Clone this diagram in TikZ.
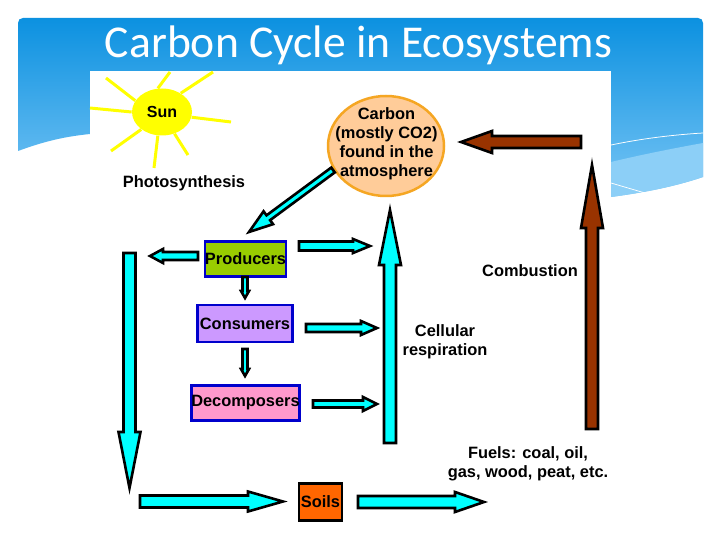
\documentclass[tikz,border=0pt]{standalone}
\usepackage{fontspec}
\setmainfont{Liberation Sans}
\newfontfamily\titlefont{Carlito}
\usetikzlibrary{calc,shapes.geometric}

\definecolor{arrowcyan}{RGB}{0,255,255}
\definecolor{arrowbrown}{RGB}{153,51,0}
\definecolor{boxblue}{RGB}{0,0,204}

\tikzset{every picture/.style={line width=0.75pt}}
\tikzset{
  blockline/.style={draw=black,line width=2.6pt,miter limit=20},
  sunray/.style={color={rgb, 255:red, 255; green, 255; blue, 0},line width=3pt},
  stagebox/.style={draw=boxblue,line width=2.5pt,inner sep=0pt,font=\bfseries\fontsize{16.4}{19}\selectfont},
  plainlabel/.style={inner sep=0.75pt,align=center,font=\bfseries\fontsize{16.4}{19}\selectfont}
}

% tail, tip, half shaft, half head, head length, fill
\newcommand{\blockarrow}[6]{
  \coordinate (hb) at ($(#2)!#5pt!(#1)$);
  \draw [blockline,fill=#6] ($(#1)!#3pt!90:(#2)$) -- ($(hb)!#3pt!90:(#2)$) -- ($(hb)!#4pt!90:(#2)$) -- (#2) -- ($(hb)!#4pt!-90:(#2)$) -- ($(hb)!#3pt!-90:(#2)$) -- ($(#1)!#3pt!-90:(#2)$) -- cycle ;
}

\begin{document}
\begin{tikzpicture}[x=1pt,y=1pt,yscale=-1,xscale=1]
\useasboundingbox (0,0) rectangle (720,540);

%Slide background
\fill [white] (0,0) rectangle (720,540);
\shade [top color={rgb, 255:red, 12; green, 145; blue, 224},bottom color={rgb, 255:red, 120; green, 197; blue, 245}] (18,23) .. controls (18,20) and (20,18) .. (23,18) -- (698,18) .. controls (701,18) and (703,20) .. (703,23) -- (703,177) .. controls (670,188) and (640,193) .. (611,197) -- (90,134) .. controls (60,137) and (40,143) .. (18,151) -- cycle ;
%Wave
\fill [color={rgb, 255:red, 140; green, 207; blue, 247}] (611,162) .. controls (640,155) and (670,149) .. (703,143) -- (703,177) .. controls (670,188) and (640,193) .. (611,197) -- cycle ;
\draw [white] (611,145) .. controls (640,139) and (670,135) .. (703,133) ;
\draw [white] (611,183) -- (645,193) ;
%Image
\fill [white] (90,71) rectangle (611,540);

%Sun
\node (sun) [ellipse,fill={rgb, 255:red, 255; green, 255; blue, 0},minimum width=60pt,minimum height=47pt,inner sep=0pt,font=\bfseries\fontsize{16}{19}\selectfont] at (162,112) {Sun};
\draw [sunray] (sun.157) -- (106,78) ;
\draw [sunray] (sun.100) -- (170,72) ;
\draw [sunray] (sun.45) -- (213,72) ;
\draw [sunray] (sun.-10) -- (231,122) ;
\draw [sunray] (sun.-60) -- (188,155) ;
\draw [sunray] (sun.-100) -- (154,168) ;
\draw [sunray] (sun.-140) -- (111,151) ;
\draw [sunray] (sun.180) -- (90,108) ;

%Carbon
\node (carbon) [ellipse,draw={rgb, 255:red, 245; green, 166; blue, 35},fill={rgb, 255:red, 255; green, 204; blue, 153},line width=2.5pt,minimum width=116pt,minimum height=100pt,inner sep=0pt] at (386,146) {};
% Text Node
\node (carbontext) [plainlabel] at (386.5,144) {Carbon\\(mostly CO2)\\found in the\\atmosphere};

%Stage boxes
\node (producers) [stagebox,fill={rgb, 255:red, 153; green, 204; blue, 0},minimum width=80pt,minimum height=35pt] at (245.5,259) {Producers};
\node (consumers) [stagebox,fill={rgb, 255:red, 204; green, 153; blue, 255},minimum width=95pt,minimum height=37pt] at (245,323.5) {Consumers};
\node (decomposers) [stagebox,fill={rgb, 255:red, 255; green, 153; blue, 204},minimum width=108pt,minimum height=35pt] at (245.5,403) {Decomposers};
\node (soils) [stagebox,draw=black,fill={rgb, 255:red, 255; green, 102; blue, 0},minimum width=43pt,minimum height=37pt] at (320.5,502) {Soils};

% Text Node
\node (photosynthesis) [plainlabel] at (184,183) {Photosynthesis};
% Text Node
\node (combustion) [plainlabel] at (530,271) {Combustion};
% Text Node
\node (respiration) [plainlabel] at (445,342) {Cellular\\respiration};
% Text Node
\node (fuels) [plainlabel] at (528,464) {Fuels: coal, oil,\\gas, wood, peat, etc.};
% Text Node
\node (slidetitle) [inner sep=0pt,anchor=base,white,font=\titlefont\fontsize{45.6}{50}\selectfont] at (358.5,58) {Carbon Cycle in Ecosystems};

%Arrow ends
\coordinate (atmotail) at (333,170);
\coordinate (atmotip) at (249,232);
\coordinate (firetail) at (581,142);
\coordinate (firetip) at (461,142);
\coordinate (fueltail) at (592,429);
\coordinate (fueltip) at (592,165);
\coordinate (resptail) at (390,443);
\coordinate (resptip) at (390,210);
\coordinate (prodltail) at (198,256);
\coordinate (prodltip) at (150,256);
\coordinate (prodrtail) at (299,246);
\coordinate (prodrtip) at (370,246);
\coordinate (downtail) at (129.5,253);
\coordinate (downtip) at (129.5,488);
\coordinate (bottomtail) at (140,501.5);
\coordinate (bottomtip) at (283,501.5);
\coordinate (soiltail) at (358,502);
\coordinate (soiltip) at (484,502);
\coordinate (constail) at (306,328);
\coordinate (constip) at (377,328);
\coordinate (dectail) at (313,404);
\coordinate (dectip) at (377,404);
\coordinate (pctail) at (245,277);
\coordinate (pctip) at (245,298);
\coordinate (cdtail) at (245,349);
\coordinate (cdtip) at (245,376);

%Block arrows
\blockarrow{atmotail}{atmotip}{3}{8}{24}{arrowcyan}
\blockarrow{firetail}{firetip}{6}{11}{31}{arrowbrown}
\blockarrow{fueltail}{fueltip}{6}{11}{63}{arrowbrown}
\blockarrow{resptail}{resptip}{6}{11}{55}{arrowcyan}
\blockarrow{prodltail}{prodltip}{4}{7}{13}{arrowcyan}
\blockarrow{prodrtail}{prodrtip}{4.5}{7}{17}{arrowcyan}
\blockarrow{downtail}{downtip}{6}{11}{56}{arrowcyan}
\blockarrow{bottomtail}{bottomtip}{6}{10}{35}{arrowcyan}
\blockarrow{soiltail}{soiltip}{6}{10}{29}{arrowcyan}
\blockarrow{constail}{constip}{4}{7}{16}{arrowcyan}
\blockarrow{dectail}{dectip}{3.5}{7}{14}{arrowcyan}
\blockarrow{pctail}{pctip}{2.5}{4}{7}{arrowcyan}
\blockarrow{cdtail}{cdtip}{2.5}{4}{7}{arrowcyan}

\end{tikzpicture}
\end{document}
